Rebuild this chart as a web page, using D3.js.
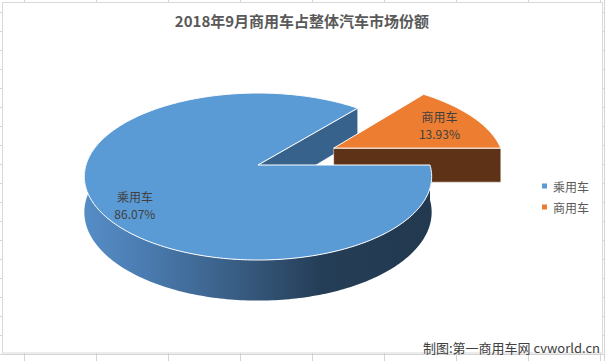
<!DOCTYPE html>
<html><head><meta charset="utf-8">
<script src="https://cdn.jsdelivr.net/npm/d3@7"></script>
<style>html,body{margin:0;padding:0;background:#fff;}svg{display:block;}</style>
</head><body>
<svg id="c" width="605" height="361"></svg>
<script>
// ---- data ----
const categories = ["乘用车", "商用车"];
const shares = [86.07, 13.93];
const legendLabels = ["乘用车", "商用车"];
const titleText = "2018年9月商用车占整体汽车市场份额";
const creditText = "制图:第一商用车网 cvworld.cn";

// ---- styles ----
const topColors = ["#5B9BD5", "#ED7D31"];
const cutColors = ["#37628B", "#5E3216"];
const explode = [0, 0.5];
const labelAngleAdjust = [-9, 0];
const labelRadius = [0.81, 0.75];
const font = "'Noto Sans CJK SC','Noto Sans',sans-serif";

const W = 605, H = 361;
const svg = d3.select("#c");

// spreadsheet grid behind the chart
const gridG = svg.append("g").attr("stroke", "#d4d4d4").attr("stroke-width", 1);
d3.range(24.5, W, 72).forEach(x => gridG.append("line").attr("x1", x).attr("x2", x).attr("y1", 0).attr("y2", H));
d3.range(12.5, H, 19).forEach(y => gridG.append("line").attr("x1", 0).attr("x2", W).attr("y1", y).attr("y2", y));
svg.append("line").attr("x1", 604.5).attr("x2", 604.5).attr("y1", 0).attr("y2", H).attr("stroke", "#d4d4d4");

// chart area
svg.append("rect").attr("x", 2.5).attr("y", 2.5).attr("width", 600).attr("height", 350.5)
  .attr("fill", "#fff").attr("stroke", "#d9d9d9").attr("stroke-width", 1);

// title
svg.append("text").attr("x", 302).attr("y", 20).attr("text-anchor", "middle")
  .attr("dominant-baseline", "central").attr("font-family", font).attr("font-size", 15)
  .attr("font-weight", "bold").attr("fill", "#595959").text(titleText);

// ---- 3D pie projection ----
const cx = 258, cy = 165, R = 172, B = 81.9, kp = 0.138, T = 35;
function proj(u, v, h) {
  const s = 1 / (1 - kp * v);
  return [cx + R * u * s, cy + B * v * s + h * s];
}
const deg = Math.PI / 180;
const pie = d3.pie().sort(null).value(d => d)
  .startAngle(Math.PI / 2).endAngle(Math.PI / 2 + 2 * Math.PI);
const arcs = pie(shares).map((a, i) => {
  const t0 = a.startAngle - Math.PI / 2, t1 = a.endAngle - Math.PI / 2;
  const mid = (t0 + t1) / 2;
  const ox = explode[i] * Math.cos(mid), oy = explode[i] * Math.sin(mid);
  return {i, t0, t1, mid, ox, oy, value: a.value};
});
function P(a, r, t, h) { return proj(a.ox + r * Math.cos(t), a.oy + r * Math.sin(t), h); }
function arcPts(a, ta, tb, h) {
  const n = Math.max(2, Math.ceil(Math.abs(tb - ta) / (1 * deg)));
  return d3.range(n + 1).map(j => P(a, 1, ta + (tb - ta) * j / n, h));
}
const line = d3.line();
const defs = svg.append("defs");
const grad = defs.append("linearGradient").attr("id", "sideGrad")
  .attr("gradientUnits", "userSpaceOnUse").attr("x1", 84).attr("x2", 432).attr("y1", 0).attr("y2", 0);
[[0, "#568dc6"], [0.18, "#4a7bb0"], [0.42, "#3a5f86"], [0.68, "#253e57"], [1, "#22394f"]]
  .forEach(([o, c]) => grad.append("stop").attr("offset", o).attr("stop-color", c));

const g = svg.append("g");
function cutFace(a, t) {
  const pts = [P(a, 0, t, 0), P(a, 1, t, 0), P(a, 1, t, T), P(a, 0, t, T)];
  return line(pts) + "Z";
}
function topFace(a) {
  return line([P(a, 0, 0, 0)].concat(arcPts(a, a.t0, a.t1, 0))) + "Z";
}
const big = arcs[0], small = arcs[1];

// 1. big slice cut face (end edge faces viewer)
g.append("path").attr("d", cutFace(big, big.t1)).attr("fill", cutColors[0])
  .attr("stroke", "#fff").attr("stroke-opacity", 0.6).attr("stroke-width", 0.8);
// 2. small slice: front cut face then top
g.append("path").attr("d", cutFace(small, small.t1)).attr("fill", cutColors[1])
  .attr("stroke", "#fff").attr("stroke-opacity", 0.6).attr("stroke-width", 0.8);
g.append("path").attr("d", topFace(small)).attr("fill", topColors[1])
  .attr("stroke", "#fff").attr("stroke-width", 1);
// 3. big slice outer side wall
{
  const ta = big.t0, tb = Math.min(big.t1, 200 * deg);
  const pts = arcPts(big, ta, tb, 0).concat(arcPts(big, ta, tb, T).reverse());
  g.append("path").attr("d", line(pts) + "Z").attr("fill", "url(#sideGrad)");
}
// 4. big slice top
g.append("path").attr("d", topFace(big)).attr("fill", topColors[0])
  .attr("stroke", "#fff").attr("stroke-width", 1);

// data labels
arcs.forEach((a, i) => {
  const t = a.mid + labelAngleAdjust[i] * deg;
  const [x, y] = P(a, labelRadius[i], t, 0);
  const tg = svg.append("g").attr("font-family", font).attr("font-size", 12).attr("fill", "#404040")
    .attr("text-anchor", "middle");
  tg.append("text").attr("x", x).attr("y", y - 8.5).attr("dominant-baseline", "central").text(categories[i]);
  tg.append("text").attr("x", x).attr("y", y + 8.5).attr("dominant-baseline", "central")
    .text(d3.format(".2f")(a.value) + "%");
});

// legend
const lg = svg.append("g").attr("font-family", font).attr("font-size", 12).attr("fill", "#595959");
legendLabels.forEach((name, i) => {
  const y = 186 + i * 21;
  lg.append("rect").attr("x", 542).attr("y", y - 2.5).attr("width", 5).attr("height", 5).attr("fill", topColors[i]);
  lg.append("text").attr("x", 553).attr("y", y).attr("dominant-baseline", "central").text(name);
});

// credit
svg.append("text").attr("x", 600).attr("y", 347).attr("text-anchor", "end")
  .attr("dominant-baseline", "central").attr("font-family", font).attr("font-size", 13)
  .attr("fill", "#404040").text(creditText);
</script>
</body></html>
